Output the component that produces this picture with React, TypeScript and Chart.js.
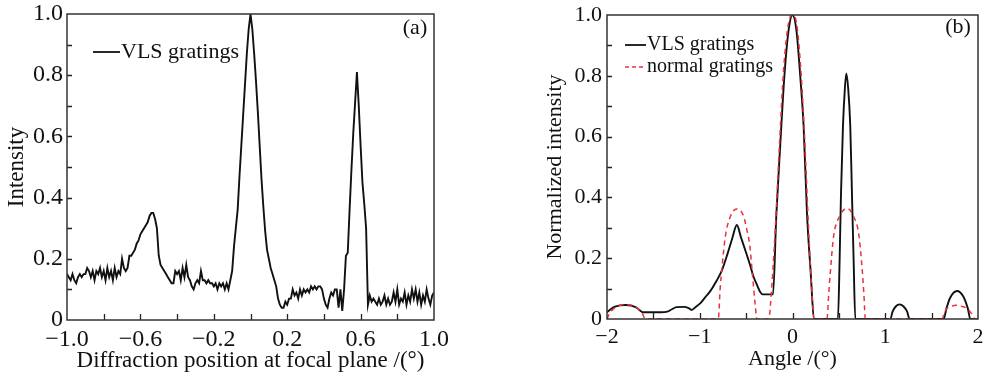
import React, { useEffect, useRef } from "react";
import { Chart, registerables } from "chart.js";

Chart.register(...registerables);

// ---------- Panel (a): measured intensity vs diffraction position ----------
const A_X_MIN = -1;
const A_X_MAX = 1;
const A_STEP = 0.01;
const A_INTENSITY = [
  // -1.00 .. -0.91
  0.15, 0.14, 0.13, 0.15, 0.13, 0.12, 0.14, 0.15, 0.14, 0.15,
  // -0.90 .. -0.81
  0.15, 0.17, 0.16, 0.14, 0.16, 0.13, 0.16, 0.15, 0.17, 0.14,
  // -0.80 .. -0.71
  0.16, 0.13, 0.17, 0.14, 0.16, 0.13, 0.17, 0.14, 0.16, 0.15,
  // -0.70 .. -0.61
  0.20, 0.17, 0.16, 0.17, 0.21, 0.21, 0.22, 0.23, 0.25, 0.26,
  // -0.60 .. -0.51
  0.28, 0.29, 0.30, 0.31, 0.32, 0.34, 0.35, 0.35, 0.33, 0.30,
  // -0.50 .. -0.41
  0.21, 0.18, 0.17, 0.16, 0.15, 0.14, 0.13, 0.12, 0.12, 0.16,
  // -0.40 .. -0.31
  0.15, 0.16, 0.13, 0.17, 0.14, 0.18, 0.14, 0.13, 0.11, 0.10,
  // -0.30 .. -0.21
  0.12, 0.13, 0.12, 0.16, 0.13, 0.13, 0.12, 0.13, 0.12, 0.12,
  // -0.20 .. -0.11
  0.11, 0.12, 0.10, 0.12, 0.11, 0.12, 0.10, 0.12, 0.10, 0.13,
  // -0.10 .. -0.01
  0.16, 0.24, 0.30, 0.36, 0.47, 0.57, 0.67, 0.77, 0.87, 0.95,
  // 0.00 .. 0.09
  1.0, 0.95, 0.87, 0.78, 0.68, 0.57, 0.46, 0.37, 0.29, 0.23,
  // 0.10 .. 0.19
  0.2, 0.17, 0.15, 0.13, 0.11, 0.07, 0.05, 0.04, 0.04, 0.06,
  // 0.20 .. 0.29
  0.05, 0.07, 0.07, 0.10, 0.08, 0.09, 0.07, 0.10, 0.08, 0.10,
  // 0.30 .. 0.39
  0.09, 0.10, 0.09, 0.11, 0.10, 0.11, 0.10, 0.11, 0.11, 0.10,
  // 0.40 .. 0.49
  0.07, 0.05, 0.04, 0.07, 0.09, 0.08, 0.10, 0.10, 0.04, 0.10,
  // 0.50 .. 0.59
  0.03, 0.10, 0.21, 0.22, 0.36, 0.49, 0.61, 0.71, 0.81, 0.70,
  // 0.60 .. 0.69
  0.57, 0.45, 0.38, 0.30, 0.05, 0.08, 0.06, 0.07, 0.06, 0.05,
  // 0.70 .. 0.79
  0.07, 0.05, 0.06, 0.08, 0.05, 0.07, 0.05, 0.06, 0.09, 0.06,
  // 0.80 .. 0.89
  0.10, 0.05, 0.07, 0.06, 0.09, 0.05, 0.08, 0.06, 0.10, 0.07,
  // 0.90 .. 0.99
  0.10, 0.06, 0.09, 0.05, 0.08, 0.06, 0.10, 0.07, 0.05, 0.08,
  // 1.00
  0.09,
];
const A_POSITIONS = A_INTENSITY.map((_, i) => Math.round((A_X_MIN + i * A_STEP) * 100) / 100);

// ---------- Panel (b): normalized intensity vs angle ----------
const B_VLS_ANGLE = [
  -2.0, -1.96, -1.92, -1.86, -1.8, -1.74, -1.68, -1.64, -1.61, -1.42, -1.35, -1.3, -1.25, -1.17,
  -1.12, -1.085, -1.05, -0.99, -0.94, -0.89, -0.82, -0.76, -0.7, -0.65, -0.6, -0.555, -0.51, -0.46,
  -0.42, -0.38, -0.35, -0.32, -0.21, -0.175, -0.131, -0.088, -0.042, 0.0, 0.042, 0.084, 0.12, 0.156,
  0.192, 0.235, 0.49, 0.508, 0.523, 0.544, 0.565, 0.58, 0.6, 0.623, 0.641, 0.659, 0.677, 1.055, 1.08,
  1.115, 1.155, 1.195, 1.235, 1.263, 1.63, 1.66, 1.7, 1.774, 1.84, 1.89, 1.917, 2.0,
];
const B_VLS_INTENSITY = [
  0.022, 0.032, 0.04, 0.045, 0.046, 0.044, 0.037, 0.027, 0.022, 0.022, 0.024, 0.032, 0.039, 0.04,
  0.036, 0.03, 0.038, 0.053, 0.072, 0.09, 0.125, 0.161, 0.215, 0.265, 0.309, 0.268, 0.227, 0.18,
  0.139, 0.11, 0.09, 0.081, 0.081, 0.337, 0.578, 0.797, 0.95, 1.0, 0.95, 0.797, 0.633, 0.348,
  0.172, 0.0, 0.0, 0.194, 0.413, 0.633, 0.76, 0.808, 0.76, 0.633, 0.413, 0.194, 0.0, 0.0, 0.025,
  0.042, 0.048, 0.042, 0.025, 0.0, 0.0, 0.035, 0.07, 0.092, 0.075, 0.035, 0.0, 0.0,
];
const B_NORMAL_ANGLE = [
  -2.0, -1.97, -1.92, -1.86, -1.8, -1.73, -1.67, -1.62, -1.585, -0.8, -0.78, -0.76, -0.725, -0.67,
  -0.6, -0.53, -0.49, -0.46, -0.43, -0.4, -0.385, -0.257, -0.221, -0.185, -0.14, -0.096, -0.042, 0.0,
  0.045, 0.09, 0.13, 0.17, 0.205, 0.235, 0.372, 0.39, 0.407, 0.443, 0.515, 0.588, 0.659, 0.713,
  0.749, 0.77, 0.785, 1.612, 1.64, 1.666, 1.7, 1.766, 1.83, 1.88, 1.93, 1.971, 2.0,
];
const B_NORMAL_INTENSITY = [
  0.0, 0.02, 0.036, 0.045, 0.047, 0.045, 0.035, 0.018, 0.0, 0.0, 0.1, 0.17, 0.27, 0.337,
  0.362, 0.34, 0.29, 0.24, 0.14, 0.04, 0.0, 0.0, 0.117, 0.3, 0.578, 0.82, 0.975, 1.0,
  0.97, 0.82, 0.6, 0.32, 0.11, 0.0, 0.0, 0.08, 0.15, 0.271, 0.342, 0.364, 0.337, 0.282,
  0.172, 0.08, 0.0, 0.0, 0.022, 0.035, 0.041, 0.045, 0.041, 0.035, 0.018, 0.0, 0.0,
];

const Y_TICK_STEP = 0.1;
const A_X_TICK_STEP = 0.2;
const B_X_TICK_STEP = 0.5;

const SERIF = "'Liberation Serif', 'Times New Roman', serif";
const TEXT = "#111";

const minus = (s: string) => s.replace("-", "\u2212");

type LegendItem = { label: string; color: string; dash: number[] };
type Deco = {
  legend: LegendItem[];
  legendX: number;
  legendY: number;
  legendGap: number;
  lineLen: number;
  legendFont: number;
  panel: string;
  panelX: number;
  panelY: number;
};

function decoPlugin(d: Deco) {
  return {
    id: "deco",
    afterDraw(chart: any) {
      const { ctx, chartArea } = chart;
      const { left, right, top, bottom } = chartArea;
      const xs = chart.scales.x;
      const ys = chart.scales.y;
      ctx.save();
      // inward ticks
      ctx.strokeStyle = "#222";
      ctx.lineWidth = 1.3;
      ctx.beginPath();
      xs.ticks.forEach((t: any) => {
        const px = Math.round(xs.getPixelForValue(t.value)) + 0.5;
        if (px <= left + 1 || px >= right - 1) return;
        ctx.moveTo(px, bottom);
        ctx.lineTo(px, bottom - 6);
      });
      ys.ticks.forEach((t: any) => {
        const py = Math.round(ys.getPixelForValue(t.value)) + 0.5;
        if (py <= top + 1 || py >= bottom - 1) return;
        ctx.moveTo(left, py);
        ctx.lineTo(left + 5, py);
      });
      ctx.stroke();
      // frame
      ctx.lineWidth = 1.5;
      ctx.strokeStyle = "#333";
      ctx.strokeRect(left, top, right - left, bottom - top);
      // legend
      ctx.font = `${d.legendFont}px ${SERIF}`;
      ctx.textBaseline = "middle";
      ctx.textAlign = "left";
      d.legend.forEach((it, i) => {
        const y = d.legendY + i * d.legendGap;
        ctx.strokeStyle = it.color;
        ctx.lineWidth = it.dash.length ? 1.5 : 1.8;
        ctx.setLineDash(it.dash);
        ctx.beginPath();
        ctx.moveTo(d.legendX, y);
        ctx.lineTo(d.legendX + d.lineLen, y);
        ctx.stroke();
        ctx.setLineDash([]);
        ctx.fillStyle = TEXT;
        ctx.fillText(it.label, d.legendX + d.lineLen + 1, y);
      });
      // panel label
      ctx.font = `22px ${SERIF}`;
      ctx.textAlign = "center";
      ctx.fillStyle = TEXT;
      ctx.fillText(d.panel, d.panelX, d.panelY);
      ctx.restore();
    },
  };
}

function makeScales(opts: {
  xMin: number;
  xMax: number;
  xStep: number;
  xFmt: (v: number) => string;
  tickFont: number;
  titleFont: number;
  xTitle: string;
  yTitle: string;
  yAxisWidth: number;
  xAxisHeight: number;
  yTickPad: number;
  xTickPad: number;
  yTitlePad: number;
  xTitlePad: number;
}) {
  return {
    x: {
      type: "linear",
      min: opts.xMin,
      max: opts.xMax,
      grid: { display: false, drawTicks: false },
      border: { display: false },
      ticks: {
        stepSize: opts.xStep,
        autoSkip: false,
        maxRotation: 0,
        padding: opts.xTickPad,
        color: TEXT,
        font: { family: SERIF, size: opts.tickFont },
        callback: (v: number, i: number) => (i % 2 === 0 ? opts.xFmt(v) : ""),
      },
      title: {
        display: true,
        text: opts.xTitle,
        color: TEXT,
        font: { family: SERIF, size: opts.titleFont },
        padding: { top: 0, bottom: opts.xTitlePad },
      },
      afterFit: (s: any) => {
        s.height = opts.xAxisHeight;
        s.paddingLeft = 0;
        s.paddingRight = 0;
      },
    },
    y: {
      type: "linear",
      min: 0,
      max: 1,
      grid: { display: false, drawTicks: false },
      border: { display: false },
      ticks: {
        stepSize: Y_TICK_STEP,
        autoSkip: false,
        padding: opts.yTickPad,
        color: TEXT,
        font: { family: SERIF, size: opts.tickFont },
        callback: (v: number, i: number) => (i % 2 === 0 ? (Math.abs(v) < 1e-9 ? "0" : v.toFixed(1)) : ""),
      },
      title: {
        display: true,
        text: opts.yTitle,
        color: TEXT,
        font: { family: SERIF, size: opts.titleFont },
        padding: { top: opts.yTitlePad, bottom: 0 },
      },
      afterFit: (s: any) => {
        s.width = opts.yAxisWidth;
        s.paddingTop = 0;
        s.paddingBottom = 0;
      },
    },
  };
}

function PanelA() {
  const ref = useRef<HTMLCanvasElement | null>(null);
  useEffect(() => {
    if (!ref.current) return;
    const chart = new Chart(ref.current, {
      type: "line",
      data: {
        datasets: [
          {
            label: "VLS gratings",
            data: A_POSITIONS.map((x, i) => ({ x, y: A_INTENSITY[i] })),
            borderColor: "#111",
            borderWidth: 1.9,
            pointRadius: 0,
            tension: 0,
          },
        ],
      },
      options: {
        responsive: false,
        animation: false,
        devicePixelRatio: 1,
        layout: { padding: { left: 0, right: 16, top: 14, bottom: 0 } },
        plugins: { legend: { display: false }, tooltip: { enabled: false } },
        scales: makeScales({
          xMin: A_X_MIN,
          xMax: A_X_MAX,
          xStep: A_X_TICK_STEP,
          xFmt: (v) => minus(v.toFixed(1)),
          tickFont: 24,
          titleFont: 23,
          xTitle: "Diffraction position at focal plane /(\u00b0)",
          yTitle: "Intensity",
          yAxisWidth: 67,
          xAxisHeight: 56,
          yTickPad: 4,
          xTickPad: 5,
          yTitlePad: 3,
          xTitlePad: 1,
        }) as any,
      },
      plugins: [
        decoPlugin({
          legend: [{ label: "VLS gratings", color: "#111", dash: [] }],
          legendX: 93,
          legendY: 52,
          legendGap: 22,
          lineLen: 27,
          legendFont: 22,
          panel: "(a)",
          panelX: 415,
          panelY: 28,
        }),
      ],
    } as any);
    return () => chart.destroy();
  }, []);
  return (
    <canvas
      ref={ref}
      width={450}
      height={376}
      style={{ position: "absolute", left: 0, top: 0, width: 450, height: 376 }}
    />
  );
}

function PanelB() {
  const ref = useRef<HTMLCanvasElement | null>(null);
  useEffect(() => {
    if (!ref.current) return;
    const chart = new Chart(ref.current, {
      type: "line",
      data: {
        datasets: [
          {
            label: "normal gratings",
            data: B_NORMAL_ANGLE.map((x, i) => ({ x, y: B_NORMAL_INTENSITY[i] })),
            borderColor: "#e8333a",
            borderWidth: 1.5,
            borderDash: [5, 4],
            pointRadius: 0,
            cubicInterpolationMode: "monotone",
          },
          {
            label: "VLS gratings",
            data: B_VLS_ANGLE.map((x, i) => ({ x, y: B_VLS_INTENSITY[i] })),
            borderColor: "#111",
            borderWidth: 1.9,
            pointRadius: 0,
            cubicInterpolationMode: "monotone",
          },
        ],
      },
      options: {
        responsive: false,
        animation: false,
        devicePixelRatio: 1,
        layout: { padding: { left: 0, right: 8, top: 15, bottom: 0 } },
        plugins: { legend: { display: false }, tooltip: { enabled: false } },
        scales: makeScales({
          xMin: -2,
          xMax: 2,
          xStep: B_X_TICK_STEP,
          xFmt: (v) => minus(String(Math.round(v))),
          tickFont: 22,
          titleFont: 22,
          xTitle: "Angle /(\u00b0)",
          yTitle: "Normalized intensity",
          yAxisWidth: 77,
          xAxisHeight: 57,
          yTickPad: 5,
          xTickPad: 5,
          yTitlePad: 12,
          xTitlePad: 4,
        }) as any,
      },
      plugins: [
        decoPlugin({
          legend: [
            { label: "VLS gratings", color: "#111", dash: [] },
            { label: "normal gratings", color: "#e8333a", dash: [4, 3] },
          ],
          legendX: 95,
          legendY: 45,
          legendGap: 22,
          lineLen: 21,
          legendFont: 20,
          panel: "(b)",
          panelX: 428,
          panelY: 27,
        }),
      ],
    } as any);
    return () => chart.destroy();
  }, []);
  return (
    <canvas
      ref={ref}
      width={456}
      height={376}
      style={{ position: "absolute", left: 530, top: 0, width: 456, height: 376 }}
    />
  );
}

export default function App() {
  return (
    <div
      style={{
        position: "absolute",
        left: 0,
        top: 0,
        width: 986,
        height: 376,
        background: "#fff",
        overflow: "hidden",
      }}
    >
      <PanelA />
      <PanelB />
    </div>
  );
}
